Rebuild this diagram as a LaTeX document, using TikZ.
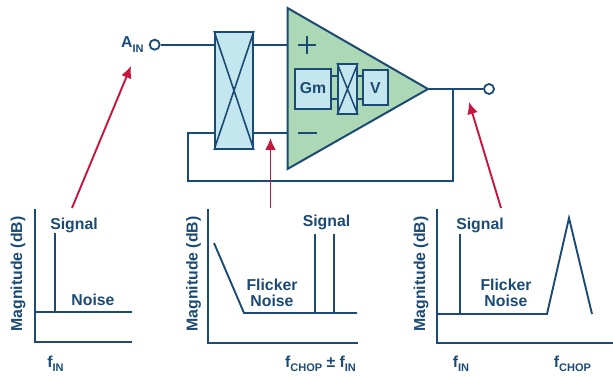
\documentclass[tikz,border=0pt]{standalone}
\usepackage{fontspec}
\setmainfont{Liberation Sans}[BoldFont={Liberation Sans Bold}]
\usetikzlibrary{arrows.meta}
\definecolor{adiblue}{HTML}{1B4A75}
\definecolor{swblue}{HTML}{C4E6EF}
\definecolor{ampgreen}{HTML}{ADD8B5}
\definecolor{adired}{HTML}{C8153E}
\newcommand{\subtxt}[1]{\raisebox{-0.28em}{\fontsize{11}{11}\selectfont #1}}
\tikzset{
  wire/.style={draw=adiblue,line width=1.9pt},
  axisline/.style={draw=adiblue,line width=2.2pt},
  trace/.style={draw=adiblue,line width=1.9pt,line join=miter},
  callout/.style={draw=adired,line width=1.9pt,-{Latex[length=12pt,width=11pt]}},
  blockbox/.style={draw=adiblue,fill=swblue,line width=1.9pt,inner sep=0pt,minimum width=#1},
  terminal/.style={circle,draw=adiblue,fill=white,line width=1.8pt,minimum size=10pt,inner sep=0pt},
  lbl/.style={text=adiblue,font=\fontsize{15.8}{17}\selectfont\bfseries,inner sep=0pt,anchor=base},
  maglbl/.style={lbl,rotate=90},
}
\begin{document}
\begin{tikzpicture}[x=1pt,y=-1pt]
\useasboundingbox (0,0) rectangle (613,377);
% amplifier
\coordinate (ampTop) at (287.5,8);
\coordinate (ampBot) at (287.5,169);
\coordinate (ampOut) at (428,89);
\path[fill=ampgreen,draw=adiblue,line width=2pt,line join=miter] (ampTop)--(ampOut)--(ampBot)--cycle;
% input chopper
\node[blockbox=38pt,minimum height=117pt] (chopA) at (234,90.5) {};
\draw[wire,line width=1.6pt] (chopA.south west)--(chopA.north east) (chopA.north west)--(chopA.south east);
% inner blocks
\node[blockbox=36pt,minimum height=40pt] (gm) at (313,89) {};
\node[blockbox=19pt,minimum height=50pt] (chopB) at (347.5,89) {};
\node[blockbox=25pt,minimum height=35pt] (vbox) at (375.5,87.5) {};
\draw[wire,line width=1.5pt] (chopB.south west)--(chopB.north east) (chopB.north west)--(chopB.south east);
\node[lbl] (gmt) at (313,93.5) {Gm};
\node[lbl] (vt) at (375.5,93.5) {V};
\draw[wire,line width=1.4pt] (gm.east |- 0,76)--(chopB.west |- 0,76);
\draw[wire,line width=1.4pt] (gm.east |- 0,99)--(chopB.west |- 0,99);
\draw[wire,line width=1.4pt] (chopB.east |- 0,76)--(vbox.west |- 0,76);
\draw[wire,line width=1.4pt] (chopB.east |- 0,99)--(vbox.west |- 0,99);
% plus and minus
\coordinate (plusC) at (307,45);
\draw[wire] ([xshift=-9pt]plusC)--([xshift=9pt]plusC) ([yshift=-9pt]plusC)--([yshift=9pt]plusC);
\coordinate (minusL) at (298,133);
\coordinate (minusR) at (317,133);
\draw[wire] (minusL)--(minusR);
% terminals
\node[terminal] (ain) at (154.7,44.7) {};
\node[terminal] (aout) at (489,89) {};
\node[lbl,anchor=base west] (aint) at (121,48) {A\subtxt{IN}};
% wiring
\coordinate (ampP) at (287,44.7);
\coordinate (ampM) at (287,133);
\coordinate (fbL) at (188,133);
\coordinate (fbLb) at (188,181);
\coordinate (fbRb) at (453,181);
\coordinate (fbR) at (453,89);
\draw[wire] (ain)--(chopA.west |- ain);
\draw[wire] (chopA.east |- ampP)--(ampP);
\draw[wire] (chopA.east |- ampM)--(ampM);
\draw[wire] (ampOut)--(aout);
\draw[wire,line join=miter] (chopA.west |- fbL)--(fbL)--(fbLb)--(fbRb)--(fbR);
% chart 1
\coordinate (a1t) at (34.7,209);
\coordinate (a1o) at (34.7,342);
\coordinate (a1r) at (131.7,342);
\draw[axisline,line join=miter] (a1t)--(a1o)--(a1r);
\coordinate (n1l) at (34.7,312);
\coordinate (n1r) at (131.7,312);
\draw[trace] (n1l)--(n1r);
\coordinate (s1t) at (55,233);
\coordinate (s1b) at (55,312);
\draw[trace] (s1t)--(s1b);
\node[maglbl] (m1) at (22,274) {Magnitude (dB)};
\node[lbl] (sig1) at (74,229) {Signal};
\node[lbl] (noi1) at (93,305) {Noise};
\node[lbl] (f1) at (55.5,367) {f\subtxt{IN}};
% chart 2
\coordinate (a2t) at (208,209);
\coordinate (a2o) at (208,343);
\coordinate (a2r) at (357.5,343);
\draw[axisline,line join=miter] (a2t)--(a2o)--(a2r);
\coordinate (n2a) at (214,243);
\coordinate (n2b) at (244,313);
\coordinate (n2c) at (357,313);
\draw[trace] (n2a)--(n2b)--(n2c);
\coordinate (s2a) at (315,234);
\coordinate (s2ab) at (315,313);
\coordinate (s2c) at (334,234);
\coordinate (s2cb) at (334,313);
\draw[trace] (s2a)--(s2ab);
\draw[trace] (s2c)--(s2cb);
\node[maglbl] (m2) at (197.7,274) {Magnitude (dB)};
\node[lbl] (sig2) at (326.5,226) {Signal};
\node[lbl] (fl2a) at (272,290) {Flicker};
\node[lbl] (fl2b) at (272,306) {Noise};
\node[lbl] (f2) at (320.5,367) {f\subtxt{CHOP} ± f\subtxt{IN}};
% chart 3
\coordinate (a3t) at (437,209);
\coordinate (a3o) at (437,343);
\coordinate (a3r) at (613,343);
\draw[axisline,line join=miter] (a3t)--(a3o)--(a3r);
\coordinate (n3a) at (437,314);
\coordinate (n3b) at (547,314);
\coordinate (n3c) at (569,218);
\coordinate (n3d) at (592,314);
\draw[trace] (n3a)--(n3b)--(n3c)--(n3d);
\coordinate (s3t) at (460,234);
\coordinate (s3b) at (460,314);
\draw[trace] (s3t)--(s3b);
\node[maglbl] (m3) at (425,274) {Magnitude (dB)};
\node[lbl] (sig3) at (480,229) {Signal};
\node[lbl] (fl3a) at (506,290) {Flicker};
\node[lbl] (fl3b) at (506,306) {Noise};
\node[lbl] (f3a) at (461,367) {f\subtxt{IN}};
\node[lbl] (f3b) at (572.5,367) {f\subtxt{CHOP}};
% callouts
\coordinate (c1s) at (72,208);
\coordinate (c1e) at (131,66);
\coordinate (c2s) at (270.5,208);
\coordinate (c2e) at (270.5,138);
\coordinate (c3s) at (501,208);
\coordinate (c3e) at (469,102);
\draw[callout] (c1s)--(c1e);
\draw[callout] (c2s)--(c2e);
\draw[callout] (c3s)--(c3e);
\end{tikzpicture}
\end{document}
